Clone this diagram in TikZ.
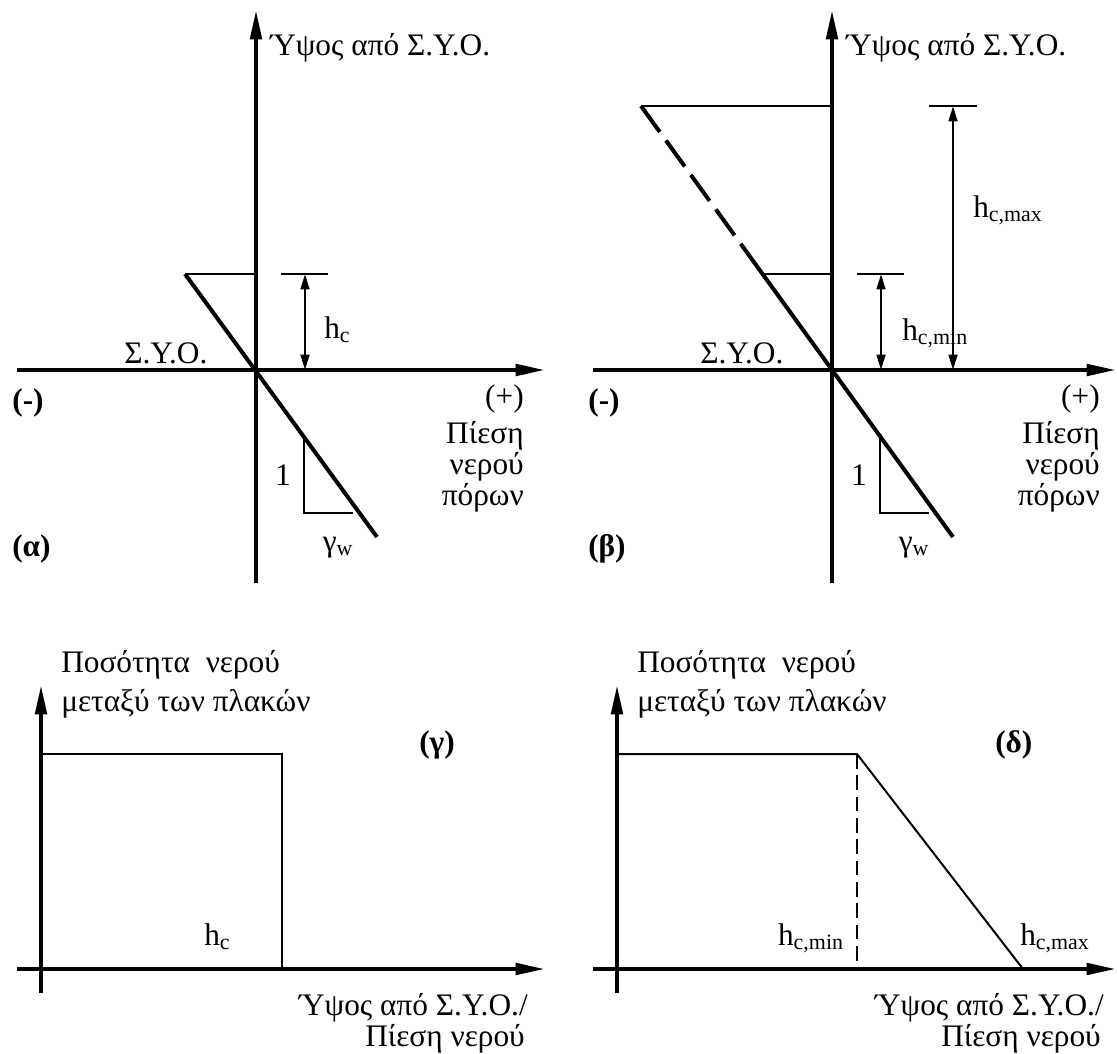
\documentclass[tikz,border=0pt]{standalone}
\usepackage{fontspec}
\setmainfont{Liberation Serif}
\usetikzlibrary{arrows.meta,calc}

\begin{document}
\begin{tikzpicture}[
	x=0.75pt, y=-0.75pt,
	every node/.style={font=\fontsize{23.5}{24}\selectfont, inner sep=0pt},
	axis/.style={line width=3pt, -{Triangle[length=22pt,width=8.5pt]}},
	curve/.style={line width=3pt},
	guide/.style={line width=1.5pt},
	dim/.style={line width=2pt, {Triangle[length=11.5pt,width=6.5pt]}-{Triangle[length=11.5pt,width=6.5pt]}},
	tag/.style={font=\fontsize{23.5}{24}\selectfont\bfseries}
]
\useasboundingbox (0,0) rectangle (1117,1053);

% (a) pressure with height
\coordinate (a-o) at (256,370);
\coordinate (a-top) at (256,10);
\coordinate (a-bot) at (256,583);
\coordinate (a-left) at (17,370);
\coordinate (a-right) at (545,370);
\coordinate (a-d1) at (185,274);
\coordinate (a-d2) at (377,537);
\coordinate (a-h) at (256,274);
\coordinate (a-t1) at (281,274);
\coordinate (a-t2) at (328,274);
\coordinate (a-m1) at (305,274);
\coordinate (a-m2) at (305,370);
\coordinate (a-s1) at (304,438);
\coordinate (a-s2) at (304,513);
\coordinate (a-s3) at (353,513);
\draw[axis] (a-bot) -- (a-top);
\draw[axis] (a-left) -- (a-right);
\draw[curve] (a-d1) -- (a-d2);
\draw[guide] (a-d1) -- (a-h);
\draw[guide] (a-t1) -- (a-t2);
\draw[dim] (a-m1) -- (a-m2);
\draw[guide] (a-s1) -- (a-s2) -- (a-s3);
\node[anchor=base west] (a-ylab) at (270,55) {Ύψος από Σ.Υ.Ο.};
\node[anchor=base west] (a-syo) at (124,363) {Σ.Υ.Ο.};
\node[tag] (a-neg) at (28,403) {(-)};
\node[anchor=base east] (a-pos) at (524,406) {(+)};
\node[anchor=base east] (a-x1) at (524,443) {Πίεση};
\node[anchor=base east] (a-x2) at (524,474) {νερού};
\node[anchor=base east] (a-x3) at (524,505) {πόρων};
\node[anchor=base west] (a-hc) at (324,338) {h\textsubscript{c}};
\node[anchor=base] (a-one) at (283,485) {1};
\node[anchor=base] (a-gw) at (338,551) {γ\textsubscript{w}};
\node[tag, anchor=base west] (a-tag) at (12,556) {(α)};

% (b) pressure with height, min and max
\coordinate (b-o) at (832,370);
\coordinate (b-top) at (832,10);
\coordinate (b-bot) at (832,583);
\coordinate (b-left) at (593,370);
\coordinate (b-right) at (1116,370);
\coordinate (b-d1) at (641,106);
\coordinate (b-d2) at (953,537);
\coordinate (b-dm) at ($(b-d1)!0.524!(b-o)$);
\coordinate (b-h1) at (832,106);
\coordinate (b-e1) at (762,274);
\coordinate (b-h2) at (832,274);
\coordinate (b-t1) at (857,274);
\coordinate (b-t2) at (904,274);
\coordinate (b-u1) at (929,106);
\coordinate (b-u2) at (977,106);
\coordinate (b-m1) at (881,274);
\coordinate (b-m2) at (881,370);
\coordinate (b-n1) at (953,106);
\coordinate (b-n2) at (953,370);
\coordinate (b-s1) at (880,438);
\coordinate (b-s2) at (880,513);
\coordinate (b-s3) at (929,513);
\draw[axis] (b-bot) -- (b-top);
\draw[axis] (b-left) -- (b-right);
\draw[curve, dash pattern=on 24pt off 7.9pt] (b-d1) -- (b-dm);
\draw[curve] (b-dm) -- (b-d2);
\draw[guide] (b-d1) -- (b-h1);
\draw[guide] (b-e1) -- (b-h2);
\draw[guide] (b-t1) -- (b-t2);
\draw[guide] (b-u1) -- (b-u2);
\draw[dim] (b-m1) -- (b-m2);
\draw[dim] (b-n1) -- (b-n2);
\draw[guide] (b-s1) -- (b-s2) -- (b-s3);
\node[anchor=base west] (b-ylab) at (846,55) {Ύψος από Σ.Υ.Ο.};
\node[anchor=base west] (b-syo) at (700,363) {Σ.Υ.Ο.};
\node[tag] (b-neg) at (604,403) {(-)};
\node[anchor=base east] (b-pos) at (1100,406) {(+)};
\node[anchor=base east] (b-x1) at (1100,443) {Πίεση};
\node[anchor=base east] (b-x2) at (1100,474) {νερού};
\node[anchor=base east] (b-x3) at (1100,505) {πόρων};
\node[anchor=base west] (b-hmin) at (902,340) {h\textsubscript{c,min}};
\node[anchor=base west] (b-hmax) at (973,217) {h\textsubscript{c,max}};
\node[anchor=base] (b-one) at (859,485) {1};
\node[anchor=base] (b-gw) at (914,551) {γ\textsubscript{w}};
\node[tag, anchor=base west] (b-tag) at (588,556) {(β)};

% (c) water between plates, single h_c
\coordinate (c-top) at (41,685);
\coordinate (c-bot) at (41,993);
\coordinate (c-left) at (17,969);
\coordinate (c-right) at (545,969);
\coordinate (c-k1) at (41,754);
\coordinate (c-k2) at (282,754);
\coordinate (c-k3) at (282,969);
\draw[axis] (c-bot) -- (c-top);
\draw[axis] (c-left) -- (c-right);
\draw[guide] (c-k1) -- (c-k2) -- (c-k3);
\node[anchor=base west] (c-q1) at (61,672) {Ποσότητα \ νερού};
\node[anchor=base west] (c-q2) at (61,711) {μεταξύ των πλακών};
\node[tag, anchor=base west] (c-tag) at (419,752) {(γ)};
\node[anchor=base west] (c-hc) at (204,945) {h\textsubscript{c}};
\node[anchor=base east] (c-x1) at (528,1015) {Ύψος από Σ.Υ.Ο./};
\node[anchor=base east] (c-x2) at (525,1046) {Πίεση νερού};

% (d) water between plates, h_c,min to h_c,max
\coordinate (d-top) at (617,685);
\coordinate (d-bot) at (617,993);
\coordinate (d-left) at (593,969);
\coordinate (d-right) at (1116,969);
\coordinate (d-k1) at (617,754);
\coordinate (d-k2) at (857,754);
\coordinate (d-k3) at (857,969);
\coordinate (d-k4) at (1023,969);
\draw[axis] (d-bot) -- (d-top);
\draw[axis] (d-left) -- (d-right);
\draw[guide] (d-k1) -- (d-k2) -- (d-k4);
\draw[guide, dash pattern=on 11pt off 5pt] (d-k2) -- (d-k3);
\node[anchor=base west] (d-q1) at (637,672) {Ποσότητα \ νερού};
\node[anchor=base west] (d-q2) at (637,711) {μεταξύ των πλακών};
\node[tag, anchor=base west] (d-tag) at (995,752) {(δ)};
\node[anchor=base east] (d-hmin) at (844,945) {h\textsubscript{c,min}};
\node[anchor=base west] (d-hmax) at (1020,945) {h\textsubscript{c,max}};
\node[anchor=base east] (d-x1) at (1104,1015) {Ύψος από Σ.Υ.Ο./};
\node[anchor=base east] (d-x2) at (1101,1046) {Πίεση νερού};
\end{tikzpicture}
\end{document}
